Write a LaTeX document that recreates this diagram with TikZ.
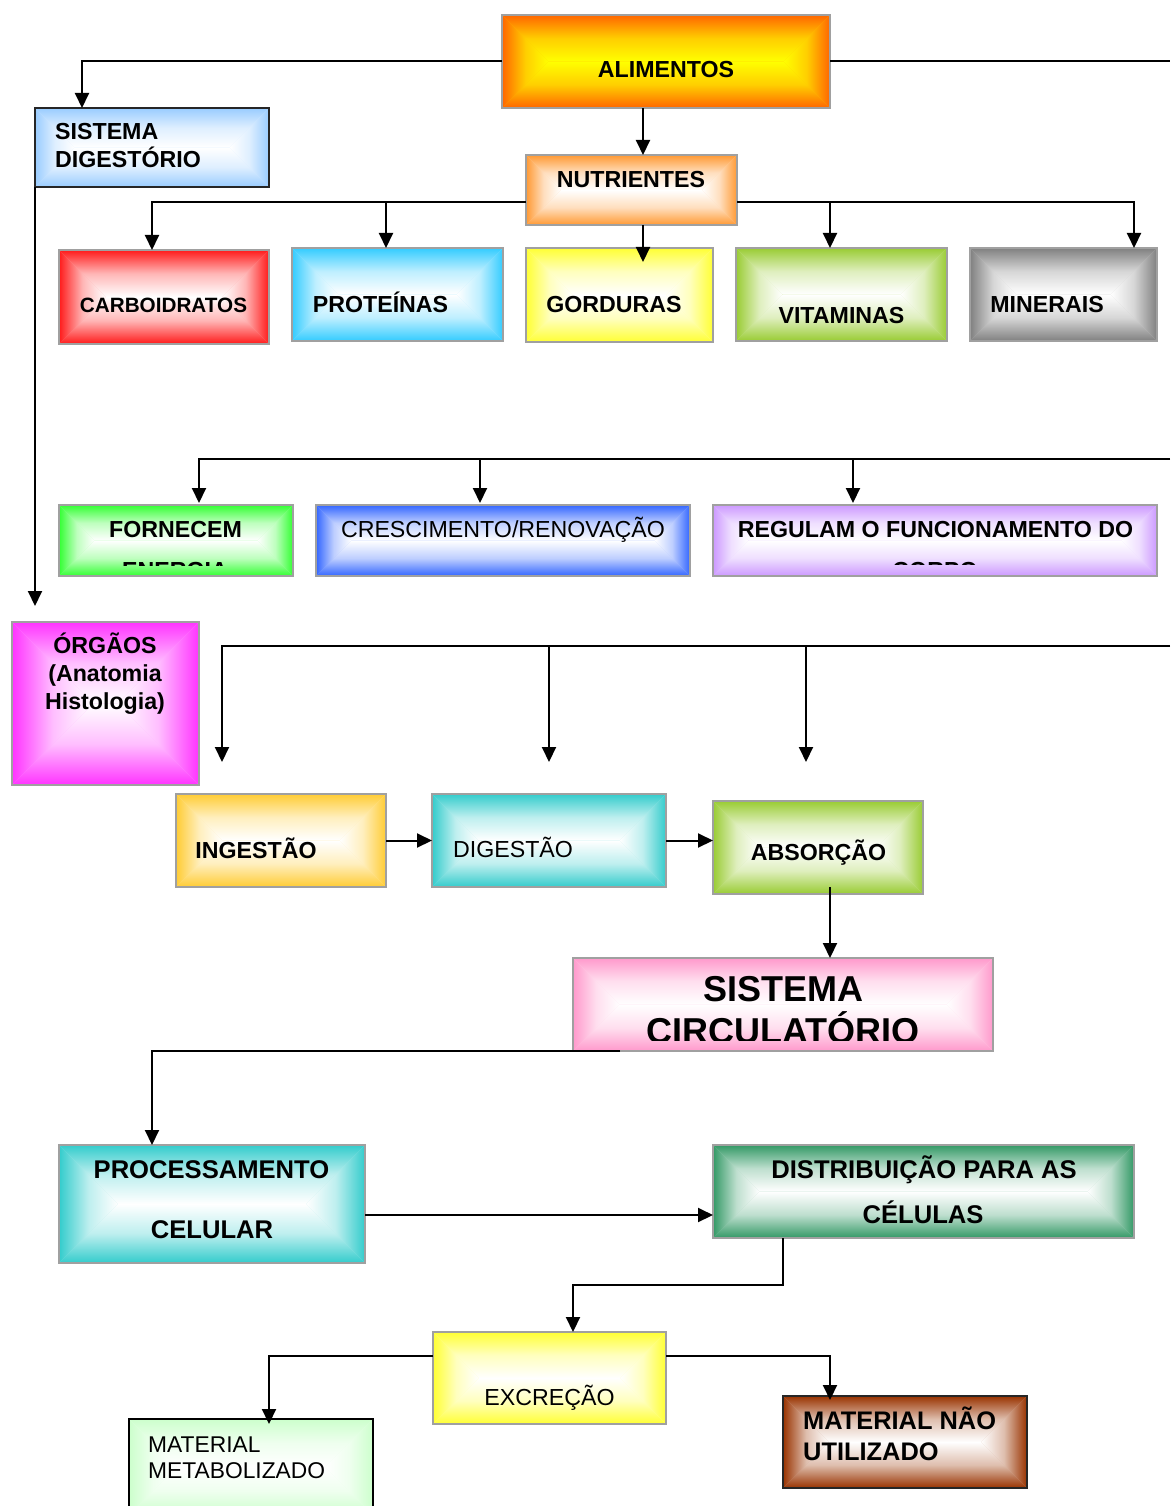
\documentclass[tikz,border=0pt]{standalone}
\usepackage{fontspec}
\setmainfont{Liberation Sans}
\usetikzlibrary{arrows.meta,calc}

% box colours (edge colour, fading to the centre colour)
\definecolor{cAlim}{HTML}{FF6600}
\definecolor{cAlimC}{HTML}{FFFF00}
\definecolor{cSdig}{HTML}{99CCFF}
\definecolor{cNutr}{HTML}{FF9933}
\definecolor{cCarb}{HTML}{FF1A1A}
\definecolor{cProt}{HTML}{33CCFF}
\definecolor{cGord}{HTML}{FFFF33}
\definecolor{cVita}{HTML}{99CC33}
\definecolor{cMine}{HTML}{808080}
\definecolor{cForn}{HTML}{33FF33}
\definecolor{cCres}{HTML}{3366FF}
\definecolor{cRegu}{HTML}{CC99FF}
\definecolor{cOrg}{HTML}{FF33FF}
\definecolor{cInge}{HTML}{FFCC33}
\definecolor{cTeal}{HTML}{33CCCC}
\definecolor{cAbso}{HTML}{99CC33}
\definecolor{cCirc}{HTML}{FF99CC}
\definecolor{cDist}{HTML}{339966}
\definecolor{cExc}{HTML}{FFFF33}
\definecolor{cMmet}{HTML}{CCFFCC}
\definecolor{cMnao}{HTML}{993300}
\definecolor{bgray}{HTML}{A0A0A0}

\newcommand\fz[1]{\fontsize{#1}{#1}\selectfont}

% rectangular "from the centre" gradient box:
% #1 name, #2 x0, #3 y0, #4 x1, #5 y1, #6 edge colour, #7 centre colour, #8 border colour
\newcommand\gbox[8]{%
  \pgfmathsetmacro\gw{#4-#2}%
  \pgfmathsetmacro\gh{#5-#3}%
  \pgfmathsetmacro\gd{min(\gw,\gh)/2}%
  \pgfmathsetmacro\gxa{#2+\gd}%
  \pgfmathsetmacro\gxb{#4-\gd}%
  \pgfmathsetmacro\gya{#3+\gd}%
  \pgfmathsetmacro\gyb{#5-\gd}%
  \fill[#6!40!#7] (#2,#3) rectangle (#4,#5);
  \shade[top color=#6,bottom color=#7,middle color=#6!32!#7]
    (#2,#3) -- (#4,#3) -- (\gxb,\gya) -- (\gxa,\gya) -- cycle;
  \shade[top color=#7,bottom color=#6,middle color=#6!32!#7]
    (#2,#5) -- (#4,#5) -- (\gxb,\gyb) -- (\gxa,\gyb) -- cycle;
  \shade[left color=#6,right color=#7,middle color=#6!32!#7]
    (#2,#3) -- (\gxa,\gya) -- (\gxa,\gyb) -- (#2,#5) -- cycle;
  \shade[left color=#7,right color=#6,middle color=#6!32!#7]
    (#4,#3) -- (\gxb,\gya) -- (\gxb,\gyb) -- (#4,#5) -- cycle;
  \node[boxframe,draw=#8,minimum width=\gw,minimum height=\gh,anchor=north west] (#1) at (#2,#3) {};
}

\tikzset{
  boxframe/.style={rectangle,inner sep=0pt,outer sep=0pt,line width=1.5pt},
  ln/.style={line width=2pt,draw=black},
  arr/.style={ln,-{Triangle[length=15pt,width=14pt]}},
  tb/.style={font=\bfseries\fz{23.2},inner sep=0pt,anchor=base},
  tr/.style={font=\fz{23.2},inner sep=0pt,anchor=base},
}

\begin{document}
\begin{tikzpicture}[x=1pt,y=-1pt]
\clip (0,0) rectangle (1170,1506);
\fill[white] (0,0) rectangle (1170,1506);

% ---------- boxes ----------
\gbox{alim}{502}{15}{830}{108}{cAlim}{cAlimC}{bgray}
\gbox{sdig}{35}{108}{269}{187}{cSdig}{white}{black!85}
\gbox{nutr}{526}{155}{737}{225}{cNutr}{white}{bgray}
\gbox{carb}{59}{250}{269}{344}{cCarb}{white}{bgray}
\gbox{prot}{292}{248}{503}{341}{cProt}{white}{bgray}
\gbox{gord}{526}{248}{713}{342}{cGord}{white}{bgray}
\gbox{vita}{736}{248}{947}{341}{cVita}{white}{bgray}
\gbox{mine}{970}{248}{1157}{341}{cMine}{white}{bgray}
\gbox{forn}{59}{505}{293}{576}{cForn}{white}{bgray}
\gbox{cres}{316}{505}{690}{576}{cCres}{white}{bgray}
\gbox{regu}{713}{505}{1157}{576}{cRegu}{white}{bgray}
\gbox{org}{12}{622}{199}{785}{cOrg}{white}{bgray}
\gbox{inge}{176}{794}{386}{887}{cInge}{white}{bgray}
\gbox{dige}{432}{794}{666}{887}{cTeal}{white}{bgray}
\gbox{abso}{713}{801}{923}{894}{cAbso}{white}{bgray}
\gbox{circ}{573}{958}{993}{1051}{cCirc}{white}{bgray}
\gbox{proc}{59}{1145}{365}{1263}{cTeal}{white}{bgray}
\gbox{dist}{713}{1145}{1134}{1238}{cDist}{white}{bgray}
\gbox{exc}{433}{1332}{666}{1424}{cExc}{white}{bgray}
\gbox{mmet}{129}{1419}{373}{1515}{cMmet}{white}{black}
\gbox{mnao}{783}{1396}{1027}{1488}{cMnao}{white}{black!85}

% ---------- texts ----------
\node[tb] (t-alim) at (666,78) {ALIMENTOS};
\node[tb,anchor=base west] (t-sdig1) at (55,140) {SISTEMA};
\node[tb,anchor=base west] (t-sdig2) at (55,168) {DIGESTÓRIO};
\node[tb] (t-nutr) at (631,188) {NUTRIENTES};
\node[tb,font=\bfseries\fz{20.7}] (t-carb) at (163.5,312) {CARBOIDRATOS};
\node[tb] (t-prot) at (380.5,312) {PROTEÍNAS};
\node[tb] (t-gord) at (614,312) {GORDURAS};
\node[tb] (t-vita) at (841.5,323) {VITAMINAS};
\node[tb] (t-mine) at (1047,312) {MINERAIS};
\begin{scope}
  \clip (59,505) rectangle (293,565);
  \node[tb] (t-forn1) at (175.5,537) {FORNECEM};
  \node[tb] (t-forn2) at (175,578) {ENERGIA};
\end{scope}
\node[tr] (t-cres) at (503,537) {CRESCIMENTO/RENOVAÇÃO};
\begin{scope}
  \clip (713,505) rectangle (1157,564.5);
  \node[tb] (t-regu1) at (935.5,537) {REGULAM O FUNCIONAMENTO DO};
  \node[tb] (t-regu2) at (935,578) {CORPO};
\end{scope}
\node[tb] (t-org1) at (105,653) {ÓRGÃOS};
\node[tb] (t-org2) at (105,681) {(Anatomia};
\node[tb] (t-org3) at (105,709) {Histologia)};
\node[tb] (t-inge) at (256,858) {INGESTÃO};
\node[tr] (t-dige) at (513,857) {DIGESTÃO};
\node[tb] (t-abso) at (818.5,860) {ABSORÇÃO};
\begin{scope}
  \clip (573,958) rectangle (993,1040);
  \node[tb,font=\bfseries\fz{36}] (t-circ1) at (783,1001) {SISTEMA};
  \node[tb,font=\bfseries\fz{36}] (t-circ2) at (783,1043) {CIRCULATÓRIO};
\end{scope}
\node[tb,font=\bfseries\fz{25.6}] (t-proc1) at (211.5,1178) {PROCESSAMENTO};
\node[tb,font=\bfseries\fz{25.6}] (t-proc2) at (212,1238) {CELULAR};
\node[tb,font=\bfseries\fz{25.6}] (t-dist1) at (924,1178) {DISTRIBUIÇÃO PARA AS};
\node[tb,font=\bfseries\fz{25.6}] (t-dist2) at (923,1223) {CÉLULAS};
\node[tr] (t-exc) at (549.5,1405) {EXCREÇÃO};
\node[tr,anchor=base west,font=\fz{22.8}] (t-mmet1) at (148,1452) {MATERIAL};
\node[tr,anchor=base west,font=\fz{22.8}] (t-mmet2) at (148,1478) {METABOLIZADO};
\node[tb,anchor=base west,font=\bfseries\fz{25.4}] (t-mnao1) at (803,1429) {MATERIAL NÃO};
\node[tb,anchor=base west,font=\bfseries\fz{25.4}] (t-mnao2) at (803,1460) {UTILIZADO};

% ---------- connectors ----------
\coordinate (eAlim) at (1170,61.5);
\coordinate (busA) at (0,202);
\coordinate (sdigEnd) at (35,606);
\coordinate (eB) at (1170,459);
\coordinate (eC) at (1170,646);
\coordinate (busD) at (0,1215);
\coordinate (busE) at (0,1355.5);

\draw[arr] (alim.west) -| ([xshift=47pt]sdig.north west);
\draw[ln] (alim.east) -- (eAlim);
\draw[arr] ([xshift=-23pt]alim.south) -- ([xshift=-23pt]alim.south |- nutr.north);

\draw[arr] (nutr.west |- busA) -| ([xshift=-12pt]carb.north);
\draw[arr] ([xshift=-11.5pt]prot.north |- busA) -- ([xshift=-11.5pt]prot.north);
\draw[arr] ([xshift=11.5pt]nutr.south) -- ($(gord.north -| nutr.south)+(11.5,14)$);
\draw[arr] (nutr.east |- busA) -| ([xshift=70.5pt]mine.north);
\draw[arr] ([xshift=-11.5pt]vita.north |- busA) -- ([xshift=-11.5pt]vita.north);

\draw[arr] (sdig.south west) -- (sdigEnd);

\draw[arr] (eB) -| ([xshift=23pt,yshift=2pt]forn.north);
\draw[arr] ([xshift=-23pt]cres.north |- eB) -- ([xshift=-23pt,yshift=2pt]cres.north);
\draw[arr] ([xshift=-82pt]regu.north |- eB) -- ([xshift=-82pt,yshift=2pt]regu.north);

\draw[arr] (eC) -| ([xshift=-59pt,yshift=32pt]inge.north);
\draw[arr] (dige.north |- eC) -- ([yshift=32pt]dige.north);
\draw[arr] ([xshift=-12pt]abso.north |- eC) -- ([xshift=-12pt,yshift=39pt]abso.north);

\draw[arr] (inge.east) -- (dige.west);
\draw[arr] (dige.east) -- (dige.east -| abso.west);
\draw[arr] ([xshift=12pt,yshift=7pt]abso.south) -- ([xshift=12pt]abso.south |- circ.north);

\draw[arr] ([xshift=47pt]circ.south west) -| ([xshift=-60pt]proc.north);
\draw[arr] (proc.east |- busD) -- (dist.west |- busD);
\draw[arr] ([xshift=-140.5pt]dist.south) -- ++(0,47) -| ([xshift=23.5pt]exc.north);
\draw[arr] (exc.west |- busE) -| ($(mmet.north)+(18,5)$);
\draw[arr] (exc.east |- busE) -| ($(mnao.north)+(-75,4)$);
\end{tikzpicture}
\end{document}
